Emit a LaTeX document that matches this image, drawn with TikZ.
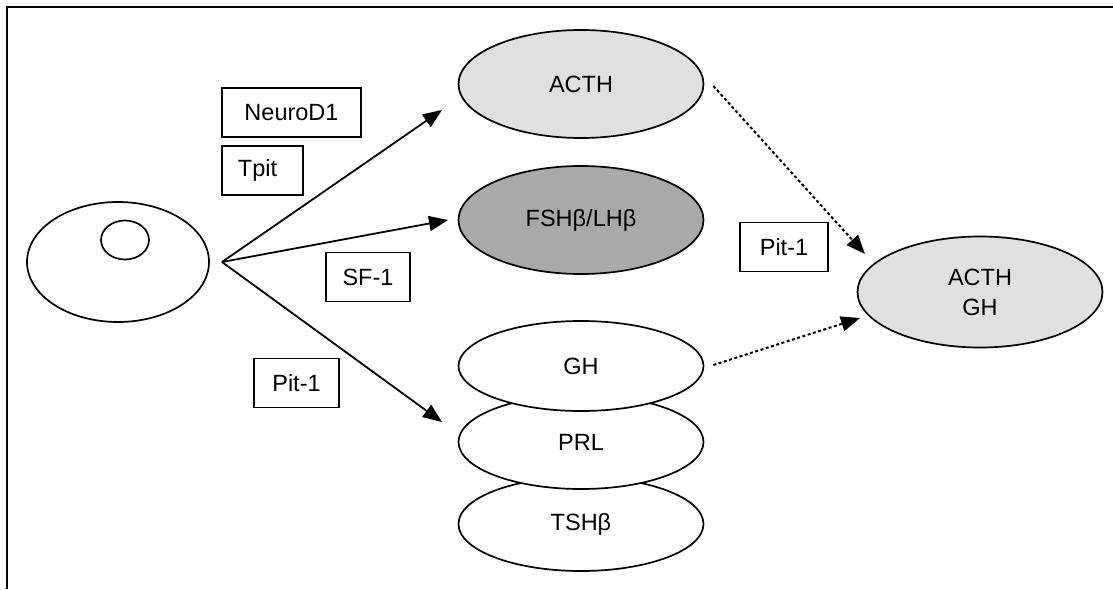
\documentclass[tikz,border=0pt]{standalone}
\usepackage{fontspec}
\setmainfont{Liberation Sans}
\usetikzlibrary{arrows.meta,shapes.geometric}
\definecolor{lightfill}{HTML}{E0E0E0}
\definecolor{darkfill}{HTML}{A9A9A9}
\begin{document}
\begin{tikzpicture}[x=1pt,y=-1pt,
  every node/.style={font=\fontsize{23.5}{30}\selectfont},
  lblbox/.style={draw, line width=1.7pt, inner sep=0pt, minimum height=49pt},
  oval/.style={ellipse, draw, line width=1.7pt, inner sep=0pt, minimum width=245pt, minimum height=108pt, align=center},
  solidarrow/.style={line width=1.8pt, -{Triangle[length=19pt,width=15pt]}},
  dotarrow/.style={line width=2pt, dash pattern=on 3pt off 2.5pt, -{Triangle[length=19pt,width=15pt]}}
]
\path[use as bounding box] (0,0) rectangle (1113,589);
\draw[line width=2pt] (7,589) -- (7,7) -- (1113,7);

% cell
\node[ellipse, draw, line width=1.7pt, minimum width=182pt, minimum height=120pt, inner sep=0pt] (cell) at (118,262) {};
\node[ellipse, draw, line width=1.7pt, minimum width=48pt, minimum height=39pt, inner sep=0pt] (nuc) at (125,240) {};

% hormone cells
\node[oval, fill=lightfill] (acth) at (581,84) {ACTH};
\node[oval, fill=darkfill] (fsh) at (581,220) {FSHβ/LHβ};
\node[oval, fill=white, minimum height=94pt] (tsh) at (581,524) {TSHβ};
\node[oval, fill=white, minimum height=94pt] (prl) at (581,442) {PRL};
\node[oval, fill=white, minimum height=90pt] (gh) at (581,366) {GH};
\node[oval, fill=lightfill, minimum height=111pt] (acthgh) at (980,292) {ACTH\\GH};

% labels
\node[lblbox, minimum width=139pt] (neurod) at (291.5,112.5) {NeuroD1};
\node[lblbox, minimum width=81pt] (tpit) at (262.5,170.5) {\hspace*{-10pt}Tpit};
\node[lblbox, minimum width=84pt] (sf) at (368,277) {SF-1};
\node[lblbox, minimum width=85pt] (pitA) at (296.5,383) {Pit-1};
\node[lblbox, minimum width=88pt] (pitB) at (784,247) {Pit-1};

% connectors
\coordinate (src) at (222,262);
\coordinate (tipA) at (442,110);
\coordinate (tipF) at (448,220);
\coordinate (tipG) at (442,422);
\coordinate (tipD1) at (865,254);
\coordinate (tipD2) at (860,318);
\draw[solidarrow] (src) -- (tipA);
\draw[solidarrow] (src) -- (tipF);
\draw[solidarrow] (src) -- (tipG);
\draw[dotarrow] ([xshift=9pt,yshift=-2pt]acth.east) -- (tipD1);
\draw[dotarrow] ([xshift=9pt,yshift=1pt]gh.east) -- (tipD2);
\end{tikzpicture}
\end{document}
